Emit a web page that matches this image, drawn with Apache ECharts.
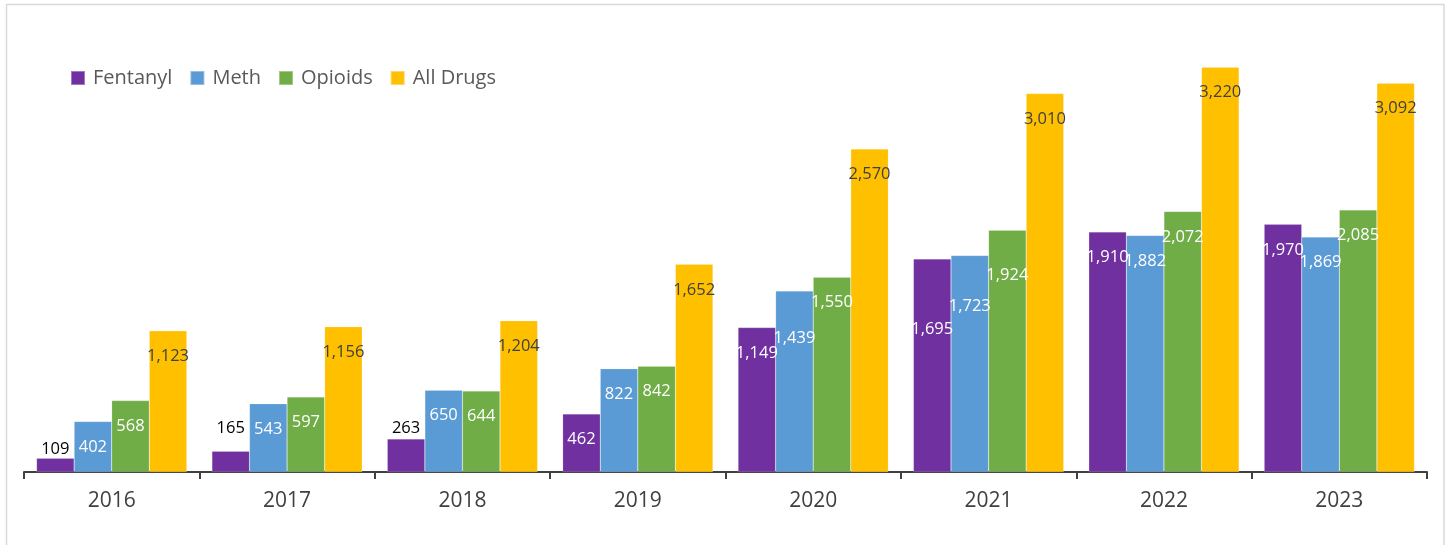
<!DOCTYPE html>
<html>
<head>
<meta charset="utf-8">
<script src="https://cdn.jsdelivr.net/npm/echarts@6/dist/echarts.min.js"></script>
<style>
  html, body { margin: 0; padding: 0; background: #ffffff; }
  #chart { width: 1450px; height: 545px; }
</style>
</head>
<body>
<div id="chart"></div>
<script>
// Yearly counts by drug category
const years = ['2016', '2017', '2018', '2019', '2020', '2021', '2022', '2023'];
const fentanyl = [109, 165, 263, 462, 1149, 1695, 1910, 1970];
const meth = [402, 543, 650, 822, 1439, 1723, 1882, 1869];
const opioids = [568, 597, 644, 842, 1550, 1924, 2072, 2085];
const allDrugs = [1123, 1156, 1204, 1652, 2570, 3010, 3220, 3092];

// Label placement tweaks (index -> distance in px)
const labelAbove = { Fentanyl: { 0: 1, 1: 14, 2: 2 } };
const labelDeep = { Fentanyl: { 5: 62 }, Meth: { 4: 39, 5: 42 }, Opioids: { 5: 37 } };

const FONT = '"Open Sans", "Noto Sans", sans-serif';
const fmt = v => Number(v).toLocaleString('en-US');

function buildSeries(name, values, color, insideColor) {
  const above = labelAbove[name] || {};
  const deep = labelDeep[name] || {};
  return {
    name: name,
    type: 'bar',
    barGap: '0%',
    barCategoryGap: '14.3%',
    itemStyle: { color: color, borderColor: 'rgba(255,255,255,0.35)', borderWidth: 0.5 },
    label: {
      show: true,
      position: 'insideTop',
      distance: 17,
      color: insideColor,
      fontFamily: FONT,
      fontSize: 16.5,
      formatter: p => fmt(p.value)
    },
    data: values.map((v, i) => {
      if (above[i] !== undefined) {
        return { value: v, label: { position: 'top', distance: above[i], color: '#000000' } };
      }
      if (deep[i] !== undefined) {
        return { value: v, label: { distance: deep[i] } };
      }
      return v;
    })
  };
}

const chart = echarts.init(document.getElementById('chart'), null, { renderer: 'canvas' });
chart.setOption({
  animation: false,
  backgroundColor: '#ffffff',
  graphic: [{
    type: 'rect',
    silent: true,
    shape: { x: 6.5, y: 4.5, width: 1437.5, height: 560 },
    style: { fill: 'none', stroke: '#d9d9d9', lineWidth: 1.5 }
  }],
  legend: {
    left: 70,
    top: 68,
    padding: 0,
    itemWidth: 14,
    itemHeight: 14,
    itemGap: 17,
    icon: 'rect',
    textStyle: { fontFamily: FONT, fontSize: 20, color: '#595959', padding: [0, 0, 0, 3] },
    data: ['Fentanyl', 'Meth', 'Opioids', 'All Drugs']
  },
  grid: { left: 24, right: 23, top: 32, bottom: 73, containLabel: false },
  xAxis: {
    type: 'category',
    data: years,
    axisLine: { lineStyle: { color: '#404040', width: 2 } },
    axisTick: { show: true, length: 7, lineStyle: { color: '#404040', width: 2 } },
    axisLabel: { fontFamily: FONT, fontSize: 21, color: '#404040', margin: 19 }
  },
  yAxis: {
    type: 'value',
    min: 0,
    max: 3500,
    show: false,
    splitLine: { show: false }
  },
  series: [
    buildSeries('Fentanyl', fentanyl, '#7030A0', '#ffffff'),
    buildSeries('Meth', meth, '#5B9BD5', '#ffffff'),
    buildSeries('Opioids', opioids, '#70AD47', '#ffffff'),
    buildSeries('All Drugs', allDrugs, '#FFC000', '#404040')
  ]
});
</script>
</body>
</html>
